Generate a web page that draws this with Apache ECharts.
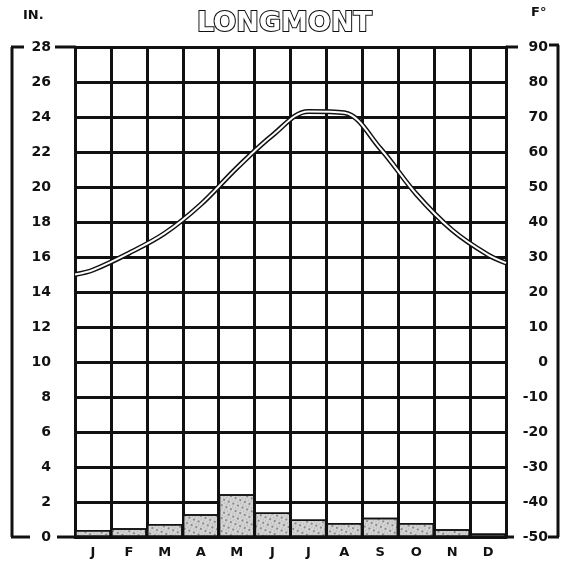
<!DOCTYPE html>
<html><head><meta charset="utf-8">
<script src="https://cdn.jsdelivr.net/npm/echarts@6/dist/echarts.min.js"></script>
<style>html,body{margin:0;padding:0;background:#fff}#c{width:569px;height:565px}</style>
</head><body><div id="c"></div>
<script>
// ---- data ----
const months = ['J','F','M','A','M','J','J','A','S','O','N','D'];
const precipIn = [0.4, 0.5, 0.75, 1.3, 2.45, 1.4, 1.0, 0.8, 1.1, 0.8, 0.45, 0.2];
const tempF = [26.3, 31.1, 36.8, 45.0, 55.4, 64.8, 71.6, 71.2, 61.0, 48.0, 37.7, 30.6];
const tempStartF = 25.0;   // value at the left edge (start of January)
const tempEndF = 28.3;     // value at the right edge (end of December)
const inchAxis = {min: 0, max: 28, interval: 2};
const fAxis = {min: -50, max: 90, interval: 10};
const titleText = 'LONGMONT';
const leftUnit = 'IN.';
const rightUnit = 'F°';

// ---- chart ----
const FONT = '"DejaVu Sans", Verdana, sans-serif';
const chart = echarts.init(document.getElementById('c'), null, {renderer: 'canvas'});
const lineData = [[0, tempStartF]].concat(tempF.map((v, i) => [i + 0.5, v]), [[months.length, tempEndF]]);
const black = '#111';

chart.setOption({
  backgroundColor: '#fff',
  animation: false,
  title: {
    text: titleText, left: 'center', top: 5,
    textStyle: {fontFamily: FONT, fontSize: 27, fontWeight: 'bold', color: '#fff',
      textBorderColor: black, textBorderWidth: 2}
  },
  grid: {left: 75, right: 63, top: 47, bottom: 28, containLabel: false},
  xAxis: [{
    type: 'category', data: months, boundaryGap: true,
    axisLine: {show: true, lineStyle: {color: black, width: 3}},
    axisTick: {show: false},
    axisLabel: {fontFamily: FONT, fontWeight: 'bold', fontSize: 13, color: black, margin: 9},
    splitLine: {show: true, lineStyle: {color: black, width: 3}}
  }, {
    type: 'value', min: 0, max: months.length, show: false
  }],
  yAxis: [{
    type: 'value', min: inchAxis.min, max: inchAxis.max, interval: inchAxis.interval,
    position: 'left',
    axisLine: {show: true, lineStyle: {color: black, width: 3}},
    axisTick: {show: false},
    axisLabel: {fontFamily: FONT, fontWeight: 'bold', fontSize: 14, color: black, margin: 24},
    splitLine: {show: true, lineStyle: {color: black, width: 3}}
  }, {
    type: 'value', min: fAxis.min, max: fAxis.max, interval: fAxis.interval,
    position: 'right',
    axisLine: {show: true, lineStyle: {color: black, width: 3}},
    axisTick: {show: false},
    axisLabel: {fontFamily: FONT, fontWeight: 'bold', fontSize: 14, color: black,
      margin: 42, align: 'right'},
    splitLine: {show: false}
  }],
  series: [{
    type: 'bar', data: precipIn, xAxisIndex: 0, yAxisIndex: 0,
    barCategoryGap: 0, barGap: 0,
    itemStyle: {
      color: '#d4d4d4', borderColor: black, borderWidth: 1.5,
      decal: {symbol: 'circle', symbolSize: 0.9, color: 'rgba(60,60,60,0.7)',
        dashArrayX: [[1, 2], [2, 3]], dashArrayY: [2, 1], rotation: 0.4}
    },
    z: 3
  }, {
    type: 'line', data: lineData, xAxisIndex: 1, yAxisIndex: 1,
    smooth: 0.35, symbol: 'none', lineStyle: {color: black, width: 5}, z: 4
  }, {
    type: 'line', data: lineData, xAxisIndex: 1, yAxisIndex: 1,
    smooth: 0.35, symbol: 'none', lineStyle: {color: '#fff', width: 2}, z: 5
  }]
});

// decorations: brackets, unit labels, extension ticks
const xL = chart.convertToPixel({xAxisIndex: 1}, 0);
const xR = chart.convertToPixel({xAxisIndex: 1}, months.length);
const yT = chart.convertToPixel({yAxisIndex: 0}, inchAxis.max);
const yB = chart.convertToPixel({yAxisIndex: 0}, inchAxis.min);
const ls = {stroke: black, lineWidth: 3};
function ln(x1, y1, x2, y2) { return {type: 'line', shape: {x1, y1, x2, y2}, style: ls, z: 10}; }
chart.setOption({
  graphic: [
    ln(12, yT, 12, yB), ln(11, yT, 24, yT), ln(11, yB, 30, yB),
    ln(55, yT, xL, yT), ln(57, yB, xL, yB),
    ln(xR, yT, xR + 12, yT), ln(xR, yB, xR + 8, yB),
    ln(558, yT - 2, 558, yB), ln(549, yT - 2, 559, yT - 2), ln(548, yB, 559, yB),
    {type: 'text', left: 23, top: 9, style: {text: leftUnit, font: 'bold 13px ' + FONT, fill: black}},
    {type: 'text', left: 531, top: 6, style: {text: rightUnit, font: 'bold 13px ' + FONT, fill: black}}
  ]
});
</script>
</body></html>
